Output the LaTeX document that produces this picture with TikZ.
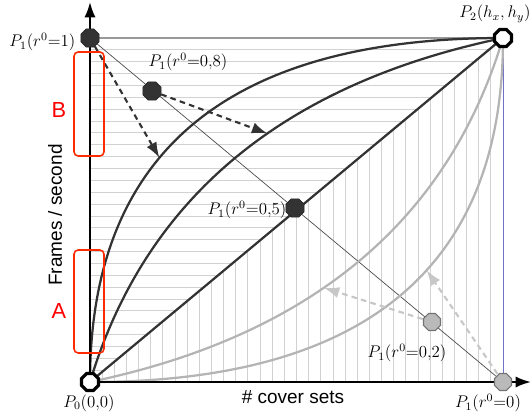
\documentclass[tikz,border=0pt]{standalone}
\usepackage{fontspec}
\setsansfont{Liberation Sans}
\usetikzlibrary{shapes.geometric,arrows.meta,calc,positioning}

\definecolor{darkline}{HTML}{333333}
\definecolor{greyline}{HTML}{B4B4B4}
\definecolor{hatchgrey}{HTML}{D2D2D2}
\definecolor{boxred}{HTML}{FF2A00}
\definecolor{edgeblue}{HTML}{7070C8}

\begin{document}
\begin{tikzpicture}[x=0.025cm, y=0.025cm,
    dark dot/.style={regular polygon, regular polygon sides=8, draw=black!85, fill=darkline, minimum size=14pt, inner sep=0pt},
    grey dot/.style={regular polygon, regular polygon sides=8, draw=black!55, fill=black!27, line width=0.8pt, minimum size=13pt, inner sep=0pt},
    end dot/.style={regular polygon, regular polygon sides=8, draw=black, fill=white, line width=2.3pt, minimum size=13pt, inner sep=0pt},
    hatch/.style={draw=hatchgrey, line width=0.6pt},
    dark curve/.style={draw=darkline, line width=1.6pt},
    grey curve/.style={draw=greyline, line width=1.6pt},
    dark arrow/.style={draw=darkline, line width=1.5pt, dash pattern=on 4pt off 3pt, -{Latex[length=11pt,width=8pt]}},
    grey arrow/.style={draw=black!22, line width=1.5pt, dash pattern=on 4pt off 3pt, -{Latex[length=11pt,width=8pt]}},
    axis/.style={draw=black, line width=1.5pt, -{Latex[length=11pt,width=8pt]}},
    red box/.style={draw=boxred, line width=1.1pt, rounded corners=3pt, minimum width=0.75cm, inner sep=0pt},
    lbl/.style={font=\large, inner sep=1pt},
    axis label/.style={font=\sffamily\fontsize{13.5}{16}\selectfont},
    red label/.style={font=\sffamily\fontsize{15.5}{18}\selectfont, text=red}]

    \useasboundingbox (-90,-33) rectangle (442,382);

    % points of the plot
    \coordinate (p0) at (0,0);
    \coordinate (p2) at (413,344);
    \coordinate (q1) at (0,344);
    \coordinate (q08) at (62,291);
    \coordinate (q05) at (205,174);
    \coordinate (q02) at (342,60);
    \coordinate (q0) at (413,0);
    % control points of the curves
    \coordinate (c1) at (0,344);
    \coordinate (c08) at (82.6,275.2);
    \coordinate (c02) at (330.4,68.8);
    \coordinate (c0) at (413,0);

    % hatching
    \foreach \k in {1,...,28}
        \draw[hatch] (0,\k*344/29) -- (\k*413/29,\k*344/29);
    \foreach \k in {1,...,33}
        \draw[hatch] (\k*413/34,0) -- (\k*413/34,\k*344/34);

    \draw[draw=black!40, line width=0.9pt] (q1) -- (p2);
    \draw[draw=edgeblue, line width=0.6pt] (q0) -- (p2);
    \draw[draw=black!70, line width=0.5pt] (q1) -- (q0);

    % curves
    \draw[grey curve] (p0) .. controls ($(p0)!2/3!(c0)$) and ($(p2)!2/3!(c0)$) .. (p2) coordinate[pos=0.57] (t0);
    \draw[grey curve] (p0) .. controls ($(p0)!2/3!(c02)$) and ($(p2)!2/3!(c02)$) .. (p2) coordinate[pos=0.42] (t02);
    \draw[dark curve] (p0) -- (p2);
    \draw[dark curve] (p0) .. controls ($(p0)!2/3!(c08)$) and ($(p2)!2/3!(c08)$) .. (p2) coordinate[pos=0.576] (t08);
    \draw[dark curve] (p0) .. controls ($(p0)!2/3!(c1)$) and ($(p2)!2/3!(c1)$) .. (p2) coordinate[pos=0.41] (t1);

    \draw[dark arrow] (q1) -- (t1);
    \draw[dark arrow] (q08) -- (t08);
    \draw[grey arrow] (q02) -- (t02);
    \draw[grey arrow] (q0) -- (t0);

    % axes
    \coordinate (ytip) at (0,380);
    \coordinate (xtip) at (441,0);
    \draw[axis] (p0) -- (ytip);
    \draw[axis] (p0) -- (xtip);

    \node[red box, minimum height=2.6cm] (boxB) at (-1,278) {};
    \node[red box, minimum height=2.575cm] (boxA) at (-1,80.5) {};

    % dots
    \node[end dot] (n0) at (p0) {};
    \node[end dot] (n2) at (p2) {};
    \node[dark dot] (d1) at (q1) {};
    \node[dark dot] (d08) at (q08) {};
    \node[dark dot] (d05) at (q05) {};
    \node[grey dot] (d02) at (q02) {};
    \node[grey dot] (d0) at (q0) {};

    % labels
    \node[lbl, anchor=east] (l1) at (-13,340) {$P_1(r^0{=}1)$};
    \node[lbl, anchor=west] (l08) at (57,320) {$P_1(r^0{=}0{,}8)$};
    \node[lbl, anchor=east] (l05) at (198,172) {$P_1(r^0{=}0{,}5)$};
    \node[lbl] (l02) at (317,29) {$P_1(r^0{=}0{,}2)$};
    \node[lbl] (l0) at (398,-21) {$P_1(r^0{=}0)$};
    \node[lbl] (lp0) at (-1,-21) {$P_0(0{,}0)$};
    \node[lbl] (lp2) at (405,368) {$P_2(h_x,h_y)$};

    \node[axis label, rotate=90] (ylbl) at (-35,167) {Frames / second};
    \node[axis label] (xlbl) at (203,-15) {\# cover sets};
    \node[red label] (lB) at (-31,272) {B};
    \node[red label] (lA) at (-31,71) {A};
\end{tikzpicture}
\end{document}
